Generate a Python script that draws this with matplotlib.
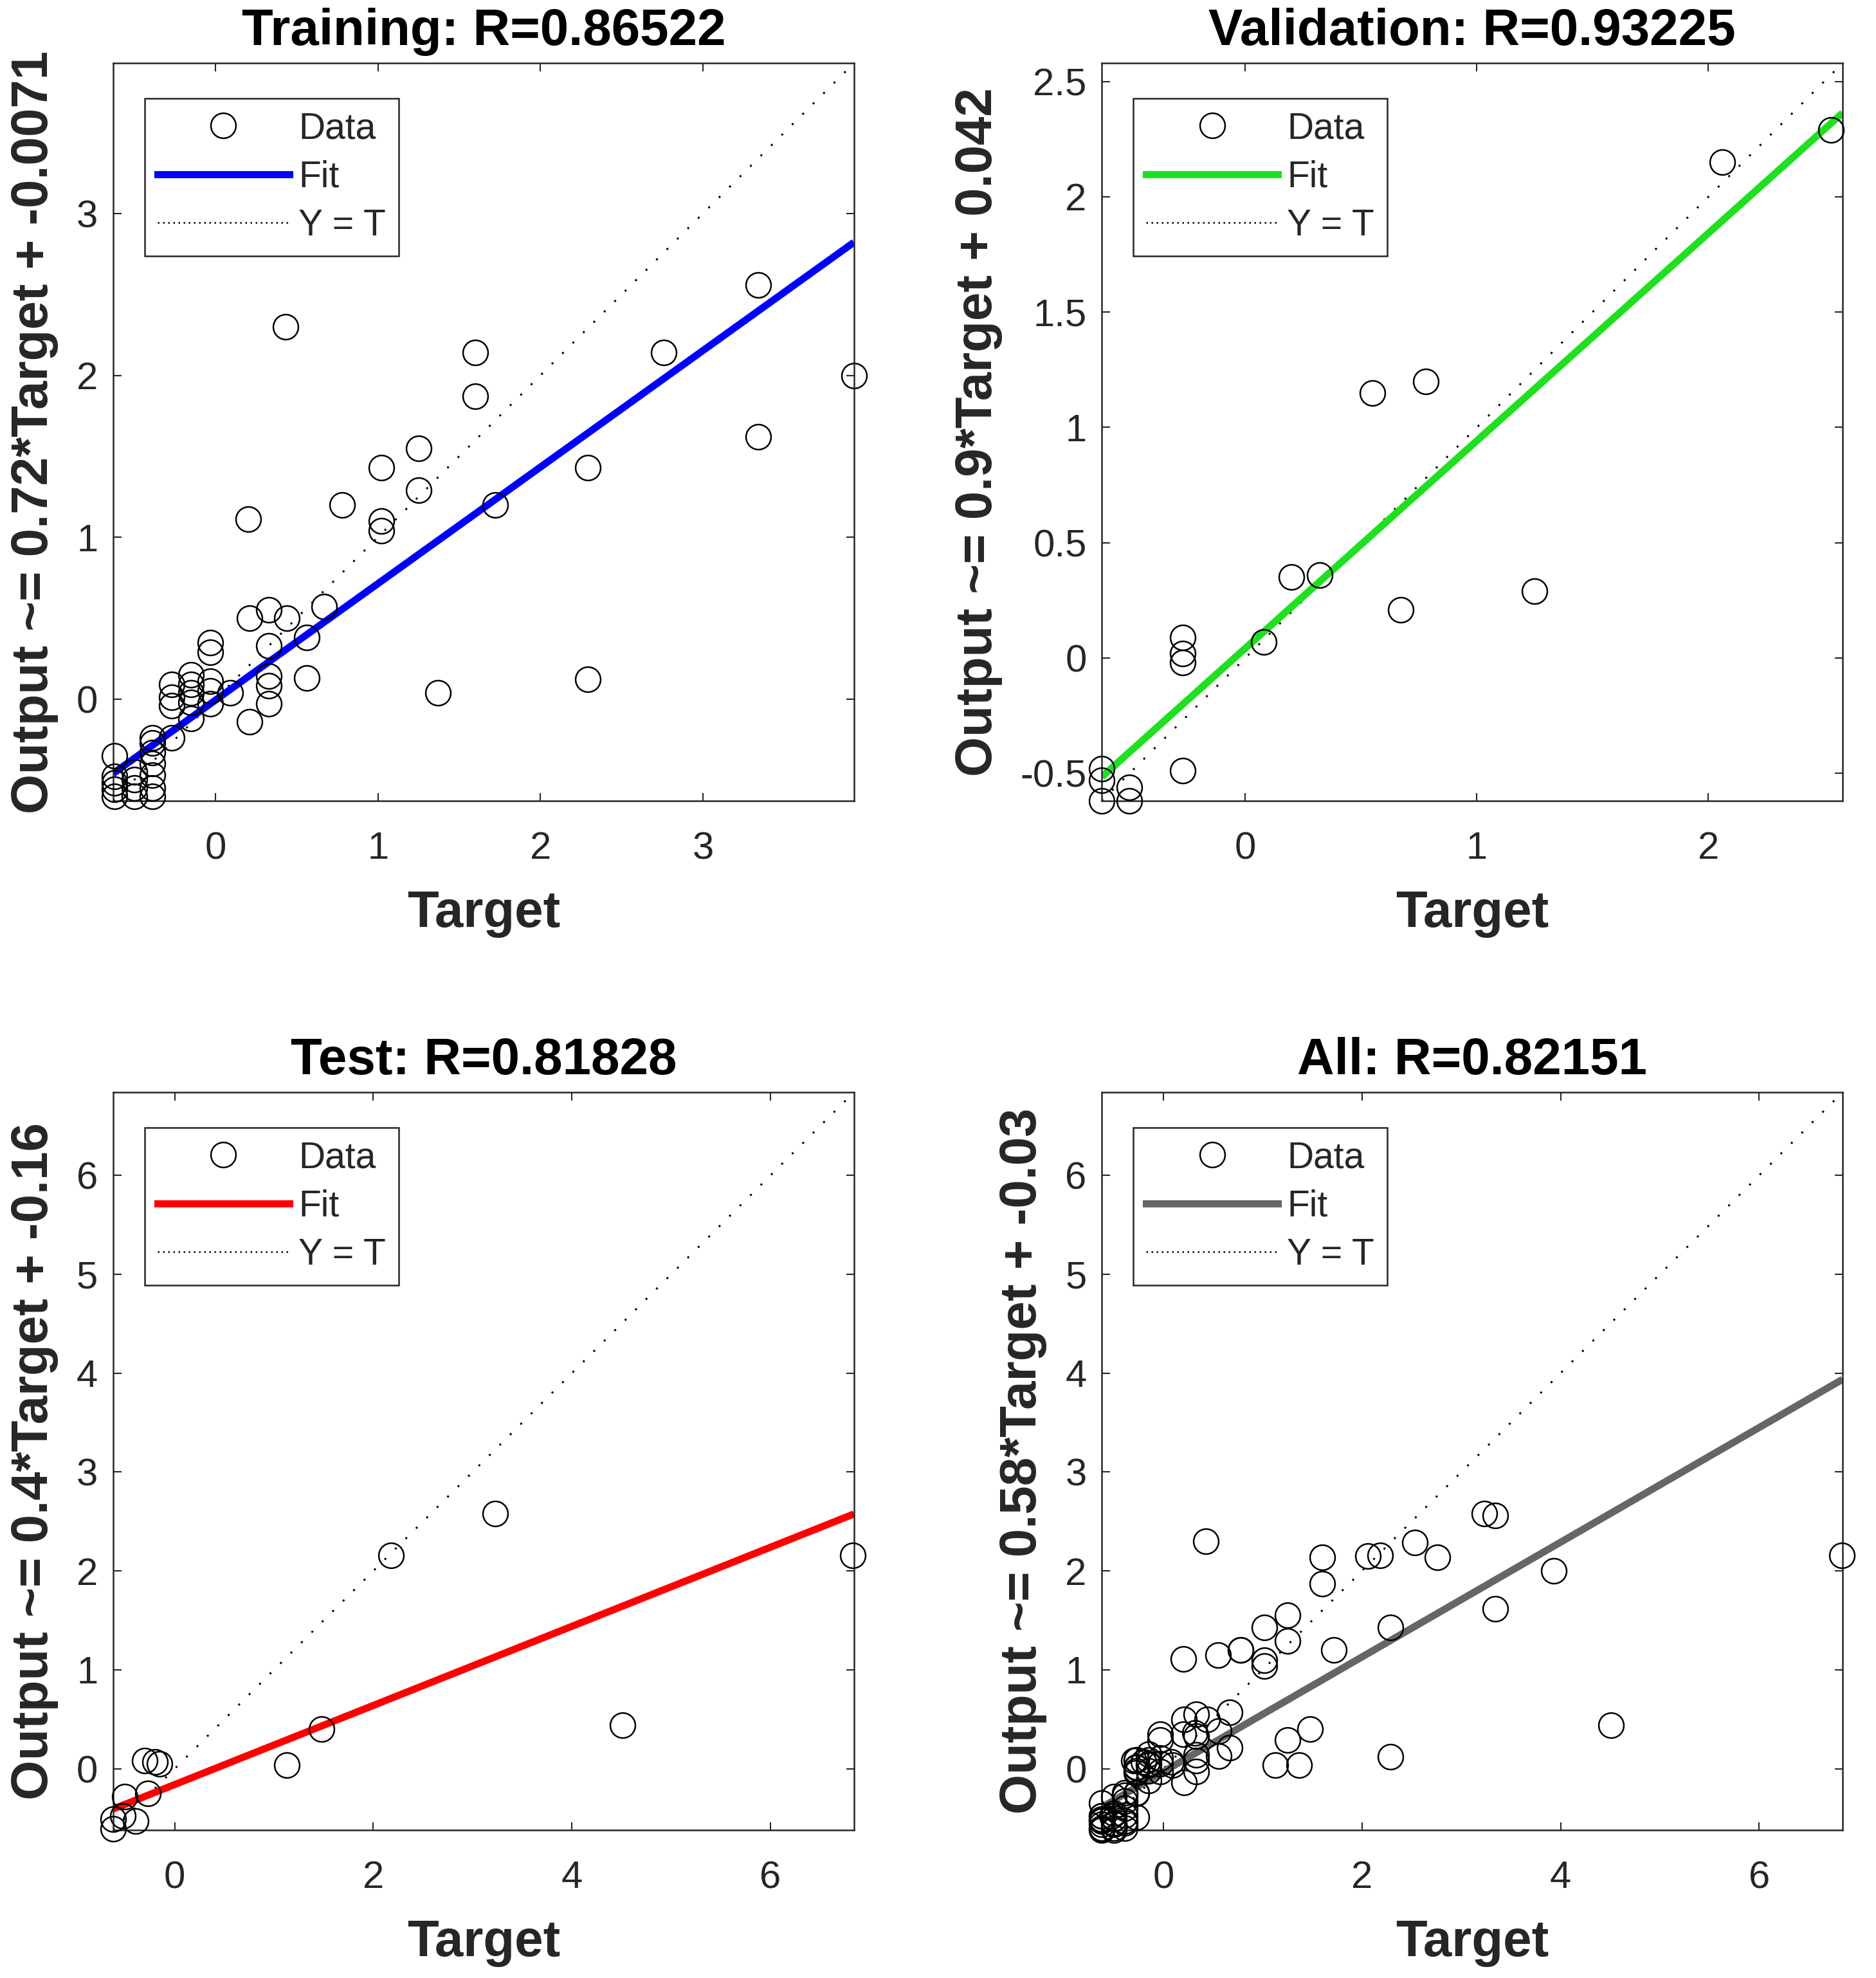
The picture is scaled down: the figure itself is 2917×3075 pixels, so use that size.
import matplotlib
matplotlib.use("Agg")
import matplotlib.pyplot as plt
from matplotlib.lines import Line2D
from matplotlib.ticker import FuncFormatter, FixedLocator

plt.rcParams['font.family'] = ['Liberation Sans', 'DejaVu Sans']

# ---------------- data ----------------
train_t = [3.93, 3.34, 3.34, 2.76, 2.29, 2.29, 1.72, 1.60, 1.60, 1.37, 1.25, 1.25,
           1.02, 1.02, 1.02, 0.78, 0.43, 0.20,
           0.67, 0.56, 0.56, 0.44, 0.33, 0.33, 0.33, 0.33, 0.33, 0.21, 0.21, 0.09,
           -0.03, -0.03, -0.03, -0.03, -0.03,
           -0.15, -0.15, -0.15, -0.15, -0.15,
           -0.27, -0.27, -0.27, -0.27,
           -0.39, -0.39, -0.39, -0.39, -0.39, -0.39, -0.39,
           -0.50, -0.50, -0.50, -0.50,
           -0.62, -0.62, -0.62, -0.62, -0.62]
train_o = [2.00, 2.56, 1.62, 2.14, 1.43, 0.12, 1.20, 2.14, 1.87, 0.04, 1.55, 1.29,
           1.43, 1.10, 1.04, 1.20, 2.30, 1.11,
           0.57, 0.38, 0.13, 0.50, 0.55, 0.33, 0.14, 0.08, -0.03, 0.50, -0.14, 0.04,
           0.35, 0.29, 0.11, 0.05, -0.03,
           0.15, 0.09, 0.04, -0.02, -0.12,
           0.09, 0.01, -0.04, -0.24,
           -0.24, -0.27, -0.33, -0.40, -0.47, -0.55, -0.60,
           -0.45, -0.50, -0.55, -0.60,
           -0.35, -0.48, -0.52, -0.56, -0.60]

val_t = [2.53, 2.06, 0.78, 0.55, 1.25, 0.67, 0.32, 0.20, 0.08,
         -0.27, -0.27, -0.27, -0.27, -0.62, -0.62, -0.62, -0.50, -0.50]
val_o = [2.29, 2.15, 1.20, 1.15, 0.29, 0.21, 0.36, 0.35, 0.07,
         0.09, 0.02, -0.02, -0.49, -0.48, -0.53, -0.62, -0.56, -0.62]

test_t = [6.83, 3.23, 2.18, 4.51, 1.48, 1.13, -0.30, -0.20, -0.15,
          -0.50, -0.27, -0.62, -0.62, -0.39, -0.52]
test_o = [2.16, 2.58, 2.16, 0.44, 0.40, 0.04, 0.08, 0.07, 0.05,
          -0.28, -0.25, -0.51, -0.61, -0.53, -0.48]

all_t = train_t + val_t + test_t
all_o = train_o + val_o + test_o

titles = ["Training: R=0.86522", "Validation: R=0.93225", "Test: R=0.81828", "All: R=0.82151"]
slopes = [0.72, 0.9, 0.4, 0.58]
intercepts = [-0.0071, 0.042, -0.16, -0.03]
ylabels = ["Output ~= 0.72*Target + -0.0071", "Output ~= 0.9*Target + 0.042",
           "Output ~= 0.4*Target + -0.16", "Output ~= 0.58*Target + -0.03"]
limits = [(-0.63, 3.93), (-0.62, 2.58), (-0.62, 6.84), (-0.62, 6.84)]
yticks = [[0, 1, 2, 3], [-0.5, 0, 0.5, 1, 1.5, 2, 2.5], [0, 1, 2, 3, 4, 5, 6], [0, 1, 2, 3, 4, 5, 6]]
xticks = [[0, 1, 2, 3], [0, 1, 2], [0, 2, 4, 6], [0, 2, 4, 6]]
fit_colors = ['#0000ff', '#1fe01f', '#ff0000', '#666666']
datasets = [(train_t, train_o), (val_t, val_o), (test_t, test_o), (all_t, all_o)]

# ---------------- figure ----------------
fig = plt.figure(figsize=(29.17, 30.75), dpi=100)
W = 0.3949
H = 0.3730
positions = [[0.0603, 0.5951, W, H], [0.5873, 0.5951, W, H],
             [0.0603, 0.0748, W, H], [0.5873, 0.0748, W, H]]

fmt = FuncFormatter(lambda v, p: ('%g' % v))
TICKC = '0.15'
LBL = 57.5

for i in range(4):
    ax = fig.add_axes(positions[i])
    lo, hi = limits[i]
    t, o = datasets[i]
    # data points
    ax.plot(t, o, linestyle='none', marker='o', markersize=28, markerfacecolor='none',
            markeredgecolor='black', markeredgewidth=1.8, clip_on=False, zorder=3)
    # fit line
    ax.plot([lo, hi], [slopes[i] * lo + intercepts[i], slopes[i] * hi + intercepts[i]],
            color=fit_colors[i], linewidth=8, solid_capstyle='butt', zorder=2)
    # Y = T
    ax.plot([lo, hi], [lo, hi], color='black', linewidth=2.2, dashes=(1, 6.5), zorder=1)

    ax.set_xlim(lo, hi)
    ax.set_ylim(lo, hi)
    ax.xaxis.set_major_locator(FixedLocator(xticks[i]))
    ax.yaxis.set_major_locator(FixedLocator(yticks[i]))
    ax.xaxis.set_major_formatter(fmt)
    ax.yaxis.set_major_formatter(fmt)
    ax.tick_params(direction='in', top=True, right=True, length=9, width=1.5,
                   labelsize=43, labelcolor=TICKC, color=TICKC)
    ax.tick_params(axis='x', pad=34)
    ax.tick_params(axis='y', pad=17)
    for s in ax.spines.values():
        s.set_linewidth(1.8)
        s.set_color('0.15')

    ax.set_title(titles[i], fontsize=LBL, fontweight='bold', pad=20)
    ax.set_xlabel('Target', fontsize=LBL, fontweight='bold', labelpad=26, color='0.15')
    ax.set_ylabel(ylabels[i], fontsize=LBL, fontweight='bold', labelpad=20, color='0.15')

    handles = [
        Line2D([], [], linestyle='none', marker='o', markersize=28, markerfacecolor='none',
               markeredgecolor='black', markeredgewidth=1.8),
        Line2D([], [], color=fit_colors[i], linewidth=8),
        Line2D([], [], color='black', linewidth=1.8, dashes=(1, 2.2)),
    ]
    leg = ax.legend(handles, ['Data', 'Fit', 'Y = T'], loc='upper left',
                    bbox_to_anchor=(0.0425, 0.952), fontsize=41, frameon=True,
                    fancybox=False, framealpha=1, edgecolor='0.15',
                    handlelength=3.6, handletextpad=0.25, borderpad=0.35,
                    labelspacing=0.38, borderaxespad=0)
    leg.get_frame().set_linewidth(1.8)
    for txt in leg.get_texts():
        txt.set_color('0.15')

fig.savefig('out.png', dpi=100)
